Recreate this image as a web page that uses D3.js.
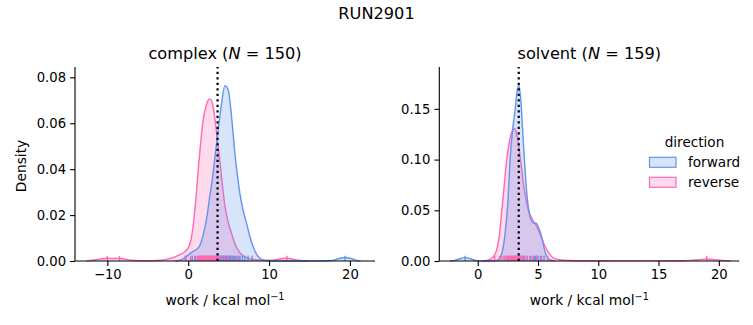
<!DOCTYPE html>
<html><head><meta charset="utf-8">
<script src="https://cdn.jsdelivr.net/npm/d3@7"></script>
<style>
html,body{margin:0;padding:0;background:#fff;}
svg{display:block;font-family:"DejaVu Sans",sans-serif;}
</style></head>
<body><svg id="c" width="753" height="325"></svg>
<script>
// ---------- data ----------
const suptitle = "RUN2901";
const phases = ["complex", "solvent"];
const counts = [150, 159];
const directions = ["forward", "reverse"];
const colors = ["#6495ED", "#FF69B4"];
const freeEnergy = [3.63, 3.40];

const complexXTicks = [-10, 0, 10, 20];
const complexYTicks = [0, 0.02, 0.04, 0.06, 0.08];
const solventXTicks = [0, 5, 10, 15, 20];
const solventYTicks = [0, 0.05, 0.10, 0.15];
const complexXDomain = [-14.0, 23.1];
const complexYDomain = [0, 0.0845];
const solventXDomain = [-3.19, 21.7];
const solventYDomain = [0, 0.1913];

// density curves: [work, density]
const complexForward = [[-1.6,0],[-1.0,0.0004],[-0.4,0.0015],[0.2,0.0032],[0.6,0.0042],[1.0,0.005],[1.4,0.0065],[1.86,0.0115],[2.3,0.019],[2.7,0.029],[3.0,0.036],[3.3,0.045],[3.7,0.057],[4.13,0.0687],[4.54,0.0764],[4.95,0.0745],[5.36,0.0629],[5.77,0.047],[6.1,0.037],[6.39,0.0295],[6.8,0.022],[7.22,0.0164],[7.6,0.011],[8.03,0.0062],[8.45,0.003],[8.86,0.0012],[9.3,0.0004],[9.8,0.0001],[11,0.00003],[15,0.00002],[17.2,0.0001],[18.0,0.0004],[18.7,0.0011],[19.4,0.0015],[20.1,0.0011],[20.7,0.0004],[21.3,0.00005]];
const complexReverse = [[-12.6,0.00005],[-11.8,0.0003],[-11.0,0.0008],[-10.0,0.0012],[-9.2,0.0011],[-8.5,0.0012],[-7.8,0.0008],[-7.0,0.0003],[-6.0,0.0001],[-4.5,0.0001],[-3.4,0.0003],[-2.6,0.0008],[-1.8,0.0016],[-1.1,0.0027],[-0.6,0.0036],[0,0.0057],[0.3,0.0085],[0.6,0.015],[0.9,0.025],[1.24,0.0397],[1.55,0.052],[1.85,0.0614],[2.2,0.0675],[2.5,0.0702],[2.68,0.0706],[3.0,0.0685],[3.3,0.062],[3.6,0.053],[3.9,0.044],[4.2,0.034],[4.5,0.025],[4.9,0.0175],[5.36,0.012],[5.9,0.0065],[6.4,0.0035],[7.0,0.0018],[7.6,0.001],[8.5,0.0005],[9.5,0.0003],[10.5,0.0004],[11.3,0.0009],[12.0,0.0012],[12.7,0.001],[13.4,0.0005],[14.2,0.0001],[14.8,0.0]];
const solventForward = [[-2.3,0],[-1.9,0.0006],[-1.5,0.0022],[-1.05,0.0033],[-0.6,0.0022],[-0.2,0.0006],[0.2,0.0001],[1.0,0.0],[1.6,0.0006],[1.95,0.006],[2.27,0.027],[2.5,0.058],[2.68,0.0996],[2.9,0.13],[3.1,0.149],[3.25,0.166],[3.4,0.1736],[3.55,0.162],[3.79,0.116],[4.07,0.0668],[4.34,0.0437],[4.6,0.0375],[4.85,0.0372],[5.05,0.033],[5.3,0.024],[5.5,0.013],[5.7,0.005],[6.0,0.001],[6.4,0.0]];
const solventReverse = [[0.4,0],[0.8,0.0008],[1.2,0.003],[1.57,0.011],[1.8,0.026],[2.0,0.05],[2.2,0.075],[2.4,0.0996],[2.6,0.116],[2.82,0.1275],[3.05,0.1305],[3.2,0.127],[3.37,0.116],[3.58,0.097],[3.79,0.0766],[4.0,0.061],[4.2,0.05],[4.55,0.041],[4.9,0.0338],[5.25,0.024],[5.6,0.014],[5.95,0.007],[6.27,0.003],[6.8,0.0012],[7.5,0.0005],[9,0.0002],[12,0.0001],[15,0.0001],[16.8,0.0002],[17.6,0.0006],[18.4,0.0014],[19.0,0.0019],[19.6,0.0014],[20.3,0.0005],[21.0,0.0001]];

// rug samples (work values)
const complexForwardRug = [-0.3,0.5,0.9,1.3,1.7,2.0,2.3,2.6,2.8,3.0,3.2,3.4,3.5,3.6,3.7,3.8,3.85,3.9,4.0,4.05,4.1,4.2,4.25,4.3,4.4,4.45,4.5,4.55,4.6,4.7,4.75,4.8,4.9,5.0,5.05,5.1,5.2,5.3,5.4,5.5,5.6,5.7,5.9,6.1,6.3,6.4,6.7,7.0,7.4,7.9,19.4];
const complexReverseRug = [-10.0,-8.5,-0.4,0.3,0.8,1.1,1.2,1.3,1.4,1.5,1.6,1.65,1.7,1.8,1.85,1.9,2.0,2.05,2.1,2.2,2.25,2.3,2.4,2.45,2.5,2.6,2.65,2.7,2.8,2.85,2.9,3.0,3.05,3.1,3.2,3.3,3.4,3.5,3.7,3.9,4.2,4.5,4.9,5.4,6.0,12.2];
const solventForwardRug = [-1.05,2.2,2.5,2.7,2.8,2.9,3.0,3.1,3.15,3.2,3.25,3.3,3.35,3.4,3.45,3.5,3.55,3.6,3.7,3.8,3.9,4.1,4.4,4.6,4.7,4.8,4.85,4.9,5.0,5.2,5.5];
const solventReverseRug = [1.4,1.8,2.0,2.2,2.35,2.4,2.5,2.55,2.6,2.7,2.75,2.8,2.9,2.95,3.0,3.1,3.15,3.2,3.3,3.4,3.5,3.6,3.7,3.9,4.1,4.3,4.6,4.9,5.3,5.8,19.0];

// ---------- drawing ----------
const svg = d3.select("#c");
const plotTop = 67, plotBottom = 261;
const tickFont = 13.2, labelFont = 13.8;

svg.append("text").attr("x", 376.5).attr("y", 19).attr("text-anchor", "middle")
  .attr("font-size", 16.2).text(suptitle);

const panels = [
  {left: 75, right: 375, xd: complexXDomain, yd: complexYDomain, xt: complexXTicks, yt: complexYTicks,
   curves: [complexForward, complexReverse], rugs: [complexForwardRug, complexReverseRug]},
  {left: 439.3, right: 739.3, xd: solventXDomain, yd: solventYDomain, xt: solventXTicks, yt: solventYTicks,
   curves: [solventForward, solventReverse], rugs: [solventForwardRug, solventReverseRug]}
];

panels.forEach((p, i) => {
  const x = d3.scaleLinear().domain(p.xd).range([p.left, p.right]);
  const y = d3.scaleLinear().domain(p.yd).range([plotBottom, plotTop]);
  const g = svg.append("g");

  // KDE fills & lines (reverse first so forward sits on top)
  [1, 0].forEach(k => {
    const data = p.curves[k];
    const area = d3.area().x(d => x(d[0])).y0(y(0)).y1(d => y(d[1])).curve(d3.curveMonotoneX);
    const line = d3.line().x(d => x(d[0])).y(d => y(d[1])).curve(d3.curveMonotoneX);
    g.append("path").attr("d", area(data)).attr("fill", colors[k]).attr("fill-opacity", 0.25);
    g.append("path").attr("d", line(data)).attr("fill", "none").attr("stroke", colors[k]).attr("stroke-width", 1.4);
  });

  // rugs
  [0, 1].forEach(k => {
    g.append("g").selectAll("line").data(p.rugs[k]).join("line")
      .attr("x1", d => x(d)).attr("x2", d => x(d))
      .attr("y1", plotBottom).attr("y2", plotBottom - 5.2)
      .attr("stroke", colors[k]).attr("stroke-width", 1.4);
  });

  // dotted reference line
  g.append("line").attr("x1", x(freeEnergy[i])).attr("x2", x(freeEnergy[i]))
    .attr("y1", plotBottom).attr("y2", plotTop)
    .attr("stroke", "#000").attr("stroke-width", 2.2).attr("stroke-dasharray", "2.2,3.3");

  // axes
  const xa = g.append("g").attr("transform", `translate(0,${plotBottom})`)
    .call(d3.axisBottom(x).tickValues(p.xt).tickSize(4.9).tickPadding(4).tickFormat(d => d < 0 ? "\u2212" + Math.abs(d) : d));
  const ya = g.append("g").attr("transform", `translate(${p.left},0)`)
    .call(d3.axisLeft(y).tickValues(p.yt).tickSize(4.9).tickPadding(4).tickFormat(d3.format(".2f")));
  [xa, ya].forEach(a => {
    a.select(".domain").attr("stroke", "#000").attr("stroke-width", 1.1);
    a.selectAll(".tick line").attr("stroke", "#000").attr("stroke-width", 1.1);
    a.selectAll("text").attr("font-size", tickFont).attr("font-family", "DejaVu Sans").attr("fill", "#000");
  });
  xa.select(".domain").attr("d", `M${p.left},0H${p.right}`);
  ya.select(".domain").attr("d", `M0,${plotBottom}V${plotTop}`);

  // title
  const cx = (p.left + p.right) / 2;
  const t = svg.append("text").attr("x", cx).attr("y", 59).attr("text-anchor", "middle").attr("font-size", 16.2);
  t.append("tspan").text(phases[i] + " (");
  t.append("tspan").attr("font-style", "italic").text("N");
  t.append("tspan").text(" = " + counts[i] + ")");

  // x label
  const xl = svg.append("text").attr("x", cx).attr("y", 305).attr("text-anchor", "middle").attr("font-size", labelFont);
  xl.append("tspan").text("work / kcal mol");
  xl.append("tspan").attr("dy", -5.5).attr("font-size", 9.7).text("\u22121");
});

// y label
svg.append("text").attr("transform", "translate(26,166) rotate(-90)").attr("text-anchor", "middle")
  .attr("font-size", labelFont).text("Density");

// legend
const lg = svg.append("g");
lg.append("text").attr("x", 694.5).attr("y", 147).attr("text-anchor", "middle").attr("font-size", 13.6).text("direction");
directions.forEach((d, k) => {
  const yy = 157.3 + k * 20;
  lg.append("rect").attr("x", 649.5).attr("y", yy).attr("width", 26.5).attr("height", 10)
    .attr("fill", colors[k]).attr("fill-opacity", 0.25).attr("stroke", colors[k]).attr("stroke-width", 1.2);
  lg.append("text").attr("x", 688).attr("y", yy + 9.7).attr("font-size", 13.6).text(d);
});
</script></body></html>
